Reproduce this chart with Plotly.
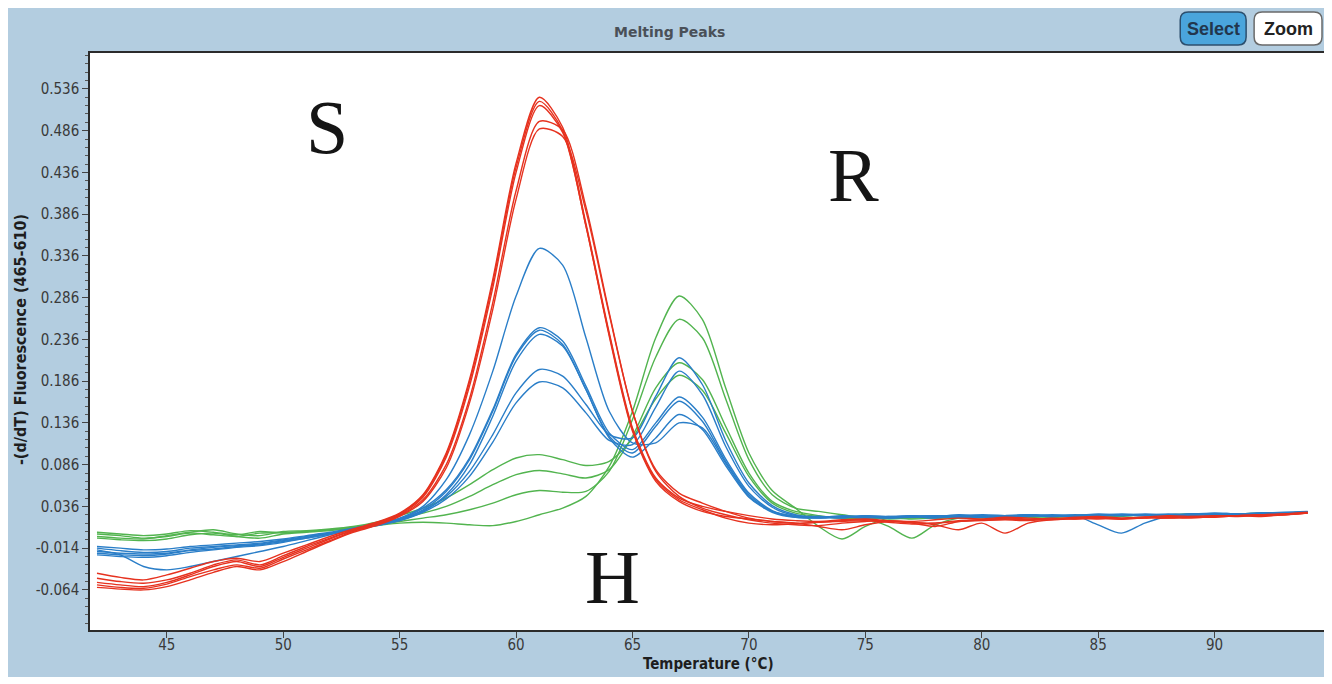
import plotly.graph_objects as go

# ---------------- data ----------------
temperature = list(range(42, 95))  # °C, 1-degree steps

x_ticks = [45, 50, 55, 60, 65, 70, 75, 80, 85, 90]
y_ticks = [-0.064, -0.014, 0.036, 0.086, 0.136, 0.186, 0.236, 0.286, 0.336, 0.386, 0.436, 0.486, 0.536]
y_tick_labels = ["-0.064", "-0.014", "0.036", "0.086", "0.136", "0.186", "0.236",
                 "0.286", "0.336", "0.386", "0.436", "0.486", "0.536"]

# red curves (S genotype)
red_1 = [-0.044, -0.049, -0.052, -0.046, -0.038, -0.030, -0.026, -0.030, -0.020, -0.010, 0.000, 0.009, 0.017, 0.028, 0.050,
         0.100, 0.188, 0.308, 0.447, 0.526, 0.490, 0.375, 0.244, 0.130, 0.070, 0.046, 0.036, 0.030, 0.025, 0.021,
         0.019, 0.018, 0.020, 0.021, 0.019, 0.018, 0.020, 0.022, 0.021, 0.023, 0.022, 0.021, 0.023, 0.024, 0.022, 0.023,
         0.025, 0.024, 0.023, 0.025, 0.026, 0.027, 0.029]
red_2 = [-0.050, -0.054, -0.056, -0.052, -0.044, -0.034, -0.028, -0.034, -0.023, -0.012, -0.002, 0.008, 0.016, 0.027, 0.049,
         0.098, 0.185, 0.304, 0.442, 0.521, 0.486, 0.372, 0.240, 0.126, 0.066, 0.042, 0.030, 0.024, 0.021, 0.018,
         0.016, 0.017, 0.019, 0.020, 0.018, 0.016, 0.012, 0.018, 0.020, 0.022, 0.021, 0.020, 0.022, 0.023, 0.021, 0.022,
         0.024, 0.023, 0.024, 0.025, 0.024, 0.026, 0.028]
red_3 = [-0.055, -0.058, -0.060, -0.055, -0.046, -0.036, -0.030, -0.036, -0.025, -0.014, -0.003, 0.007, 0.015, 0.026, 0.047,
         0.095, 0.180, 0.298, 0.436, 0.516, 0.484, 0.372, 0.242, 0.128, 0.068, 0.044, 0.032, 0.022, 0.016, 0.014,
         0.015, 0.017, 0.018, 0.019, 0.017, 0.015, 0.016, 0.019, 0.020, 0.021, 0.020, 0.022, 0.021, 0.022, 0.021, 0.023,
         0.022, 0.024, 0.025, 0.024, 0.026, 0.027, 0.028]
red_4 = [-0.058, -0.061, -0.062, -0.057, -0.048, -0.040, -0.034, -0.038, -0.027, -0.016, -0.005, 0.006, 0.014, 0.025, 0.044,
         0.086, 0.165, 0.280, 0.414, 0.497, 0.487, 0.395, 0.268, 0.150, 0.078, 0.048, 0.034, 0.026, 0.020, 0.016,
         0.014, 0.013, 0.016, 0.018, 0.019, 0.017, 0.014, 0.008, 0.016, 0.004, 0.016, 0.020, 0.021, 0.022, 0.021, 0.022,
         0.023, 0.022, 0.024, 0.025, 0.025, 0.026, 0.028]
red_5 = [-0.061, -0.063, -0.064, -0.060, -0.052, -0.043, -0.036, -0.040, -0.030, -0.018, -0.006, 0.005, 0.013, 0.024, 0.042,
         0.082, 0.160, 0.272, 0.404, 0.488, 0.479, 0.390, 0.266, 0.150, 0.080, 0.052, 0.040, 0.030, 0.022, 0.018,
         0.016, 0.012, 0.008, 0.014, 0.018, 0.017, 0.016, 0.018, 0.019, 0.020, 0.019, 0.021, 0.022, 0.021, 0.022, 0.023,
         0.022, 0.023, 0.024, 0.025, 0.026, 0.026, 0.028]

# blue curves (H genotype)
blue_1 = [-0.016, -0.022, -0.036, -0.040, -0.036, -0.030, -0.024, -0.018, -0.012, -0.005, 0.002, 0.009, 0.015, 0.022, 0.036,
          0.068, 0.122, 0.198, 0.288, 0.345, 0.325, 0.238, 0.150, 0.112, 0.112, 0.136, 0.130, 0.088, 0.048, 0.030,
          0.024, 0.022, 0.023, 0.024, 0.022, 0.023, 0.025, 0.024, 0.023, 0.025, 0.026, 0.024, 0.025, 0.026, 0.025, 0.026,
          0.025, 0.027, 0.026, 0.027, 0.028, 0.028, 0.029]
blue_2 = [-0.014, -0.017, -0.019, -0.018, -0.014, -0.012, -0.010, -0.008, -0.004, 0.000, 0.004, 0.009, 0.014, 0.021, 0.034,
          0.056, 0.094, 0.152, 0.218, 0.250, 0.234, 0.180, 0.124, 0.104, 0.136, 0.167, 0.143, 0.093, 0.052, 0.031,
          0.024, 0.023, 0.024, 0.022, 0.024, 0.025, 0.023, 0.024, 0.025, 0.024, 0.026, 0.025, 0.024, 0.026, 0.025, 0.027,
          0.026, 0.025, 0.027, 0.026, 0.028, 0.028, 0.029]
blue_3 = [-0.018, -0.020, -0.021, -0.020, -0.016, -0.013, -0.011, -0.009, -0.005, -0.001, 0.004, 0.009, 0.014, 0.020, 0.032,
          0.054, 0.092, 0.150, 0.216, 0.247, 0.230, 0.176, 0.120, 0.100, 0.132, 0.162, 0.138, 0.090, 0.050, 0.030,
          0.023, 0.022, 0.024, 0.023, 0.022, 0.024, 0.025, 0.023, 0.024, 0.022, 0.025, 0.024, 0.025, 0.024, 0.026, 0.025,
          0.026, 0.027, 0.025, 0.027, 0.028, 0.027, 0.029]
blue_4 = [-0.020, -0.022, -0.023, -0.021, -0.017, -0.015, -0.012, -0.010, -0.006, -0.002, 0.003, 0.008, 0.013, 0.019, 0.030,
          0.050, 0.086, 0.144, 0.210, 0.242, 0.228, 0.176, 0.118, 0.095, 0.118, 0.146, 0.128, 0.085, 0.047, 0.029,
          0.023, 0.024, 0.022, 0.025, 0.023, 0.024, 0.022, 0.025, 0.024, 0.023, 0.025, 0.024, 0.025, 0.014, 0.004, 0.016,
          0.024, 0.025, 0.027, 0.026, 0.027, 0.028, 0.029]
blue_5 = [-0.012, -0.014, -0.016, -0.015, -0.012, -0.010, -0.008, -0.006, -0.003, 0.001, 0.005, 0.010, 0.015, 0.021, 0.031,
          0.048, 0.078, 0.122, 0.172, 0.200, 0.192, 0.158, 0.122, 0.118, 0.168, 0.214, 0.182, 0.115, 0.064, 0.037,
          0.026, 0.023, 0.025, 0.024, 0.023, 0.025, 0.024, 0.026, 0.025, 0.024, 0.026, 0.025, 0.026, 0.025, 0.027, 0.026,
          0.025, 0.027, 0.028, 0.027, 0.028, 0.029, 0.030]
blue_6 = [-0.022, -0.024, -0.025, -0.023, -0.019, -0.016, -0.013, -0.011, -0.007, -0.002, 0.003, 0.008, 0.013, 0.019, 0.029,
          0.045, 0.072, 0.113, 0.160, 0.185, 0.178, 0.148, 0.115, 0.110, 0.155, 0.198, 0.170, 0.108, 0.060, 0.035,
          0.025, 0.024, 0.023, 0.025, 0.024, 0.023, 0.025, 0.024, 0.026, 0.025, 0.024, 0.026, 0.025, 0.027, 0.026, 0.025,
          0.027, 0.026, 0.028, 0.027, 0.028, 0.028, 0.029]

# green curves (R genotype)
green_1 = [0.003, 0.001, -0.002, 0.000, 0.004, 0.002, 0.000, 0.004, 0.005, 0.006, 0.008, 0.010, 0.013, 0.016, 0.017,
           0.016, 0.014, 0.013, 0.018, 0.026, 0.034, 0.048, 0.084, 0.150, 0.238, 0.288, 0.260, 0.178, 0.100, 0.055,
           0.034, 0.012, -0.003, 0.012, 0.022, 0.021, 0.022, 0.023, 0.022, 0.024, 0.023, 0.024, 0.025, 0.024, 0.025, 0.026,
           0.025, 0.026, 0.027, 0.026, 0.027, 0.028, 0.029]
green_2 = [-0.002, -0.004, -0.005, -0.003, 0.002, 0.004, 0.000, -0.002, 0.003, 0.005, 0.007, 0.010, 0.014, 0.018, 0.022,
           0.026, 0.032, 0.040, 0.050, 0.055, 0.053, 0.054, 0.078, 0.140, 0.215, 0.260, 0.238, 0.165, 0.092, 0.050,
           0.034, 0.030, 0.026, 0.022, 0.012, -0.002, 0.014, 0.022, 0.023, 0.022, 0.024, 0.023, 0.024, 0.025, 0.024, 0.026,
           0.025, 0.026, 0.027, 0.026, 0.027, 0.028, 0.029]
green_3 = [0.005, 0.003, 0.001, 0.003, 0.007, 0.005, 0.002, 0.006, 0.004, 0.006, 0.008, 0.011, 0.015, 0.021, 0.028,
           0.036, 0.048, 0.062, 0.074, 0.079, 0.075, 0.070, 0.080, 0.120, 0.178, 0.208, 0.188, 0.132, 0.076, 0.042,
           0.030, 0.025, 0.022, 0.023, 0.021, 0.022, 0.023, 0.022, 0.024, 0.023, 0.024, 0.025, 0.024, 0.025, 0.026, 0.025,
           0.026, 0.027, 0.026, 0.027, 0.028, 0.028, 0.029]
green_4 = [0.000, -0.002, -0.003, 0.001, 0.005, 0.008, 0.003, 0.001, 0.006, 0.007, 0.009, 0.012, 0.017, 0.025, 0.034,
           0.046, 0.062, 0.080, 0.094, 0.098, 0.092, 0.085, 0.090, 0.118, 0.165, 0.193, 0.175, 0.124, 0.072, 0.040,
           0.028, 0.024, 0.022, 0.021, 0.022, 0.023, 0.022, 0.023, 0.024, 0.023, 0.025, 0.024, 0.025, 0.026, 0.025, 0.026,
           0.025, 0.027, 0.026, 0.027, 0.028, 0.028, 0.029]

groups = [
    ("#52b44f", [green_1, green_2, green_3, green_4]),
    ("#2a7ec8", [blue_1, blue_2, blue_3, blue_4, blue_5, blue_6]),
    ("#e6321f", [red_1, red_2, red_3, red_4, red_5]),
]

# ---------------- layout helpers (page pixel -> paper) ----------------
OFF = 8                       # page body margin
FIG_W, FIG_H = 1322, 669      # figure spans page pixels 8..1330, 8..677
L, R, T, B = 90, 1326, 53, 630  # plot area in page pixels


def fx(px):
    return (px - L) / (R - L)


def fy(py):
    return (B - py) / (B - T)


def rounded_path(x0, y0, x1, y1, r):
    pts = [
        ("M", [(x0 + r, y0)]), ("L", [(x1 - r, y0)]), ("Q", [(x1, y0), (x1, y0 + r)]),
        ("L", [(x1, y1 - r)]), ("Q", [(x1, y1), (x1 - r, y1)]), ("L", [(x0 + r, y1)]),
        ("Q", [(x0, y1), (x0, y1 - r)]), ("L", [(x0, y0 + r)]), ("Q", [(x0, y0), (x0 + r, y0)]),
    ]
    s = ""
    for cmd, ps in pts:
        s += cmd + " " + " ".join(f"{fx(a):.5f},{fy(b):.5f}" for a, b in ps) + " "
    return s + "Z"


fig = go.Figure()
for color, curves in groups:
    for c in curves:
        fig.add_trace(go.Scatter(
            x=temperature, y=c, mode="lines",
            line=dict(color=color, width=1.4, shape="spline", smoothing=0.8),
            hoverinfo="skip", showlegend=False,
        ))

tick_font = dict(family="DejaVu Sans Condensed, Liberation Sans Narrow, DejaVu Sans, sans-serif",
                 size=15, color="#3a3a3a")
ytitle_font = dict(family="DejaVu Sans Condensed, Liberation Sans Narrow, DejaVu Sans, sans-serif",
                   size=16, color="#1e1e1e")
xtitle_font = dict(family="DejaVu Sans Condensed, Liberation Sans Narrow, DejaVu Sans, sans-serif",
                   size=15, color="#1e1e1e")
serif = "Liberation Serif, Times New Roman, serif"

fig.update_layout(
    width=FIG_W, height=FIG_H, autosize=False,
    margin=dict(l=L - OFF, r=OFF + FIG_W - R, t=T - OFF, b=OFF + FIG_H - B, pad=0),
    paper_bgcolor="#b3cde0", plot_bgcolor="white",
    xaxis=dict(range=[41.7, 94.7], tickmode="array", tickvals=x_ticks,
               ticktext=[str(v) for v in x_ticks],
               ticks="outside", ticklen=6, tickcolor="#444", tickwidth=1, ticklabelstandoff=-6,
               showgrid=False, zeroline=False, showline=True, mirror=True,
               linecolor="#2b2b2b", linewidth=1.5, tickfont=tick_font),
    yaxis=dict(range=[-0.112, 0.579], tickmode="array", tickvals=y_ticks, ticktext=y_tick_labels,
               ticks="outside", ticklen=6, tickcolor="#444", tickwidth=1,
               minor=dict(tickmode="linear", tick0=0.036, dtick=0.01, ticks="outside",
                          ticklen=3, tickcolor="#555", showgrid=False),
               showgrid=False, zeroline=False, showline=True, mirror=True,
               linecolor="#2b2b2b", linewidth=1.5, tickfont=tick_font),
    shapes=[
        dict(type="path", xref="paper", yref="paper", path=rounded_path(1182, 12, 1248, 45, 8),
             fillcolor="#4aa5dc", line=dict(color="#2c4f6e", width=1.5)),
        dict(type="path", xref="paper", yref="paper", path=rounded_path(1256, 12, 1324, 45, 8),
             fillcolor="white", line=dict(color="#6a6a6a", width=1.5)),
    ],
    annotations=[
        dict(text="<b>Melting Peaks</b>", xref="paper", yref="paper", x=fx(670), y=fy(32),
             showarrow=False, xanchor="center", yanchor="middle",
             font=dict(family="DejaVu Sans, sans-serif", size=14, color="#4a5058")),
        dict(text="<b>Select</b>", xref="paper", yref="paper", x=fx(1215), y=fy(29),
             showarrow=False, xanchor="center", yanchor="middle",
             font=dict(family="Liberation Sans, Arial, sans-serif", size=18, color="#22364d")),
        dict(text="<b>Zoom</b>", xref="paper", yref="paper", x=fx(1290), y=fy(29),
             showarrow=False, xanchor="center", yanchor="middle",
             font=dict(family="Liberation Sans, Arial, sans-serif", size=18, color="#222222")),
        dict(text="<b>-(d/dT) Fluorescence (465-610)</b>", xref="paper", yref="paper",
             x=fx(20), y=fy(340), textangle=-90, showarrow=False,
             xanchor="center", yanchor="middle", font=ytitle_font),
        dict(text="<b>Temperature (°C)</b>", xref="paper", yref="paper",
             x=fx(710), y=fy(664), showarrow=False,
             xanchor="center", yanchor="middle", font=xtitle_font),
        dict(text="S", xref="paper", yref="paper", x=fx(327), y=fy(127), showarrow=False,
             xanchor="center", yanchor="middle", font=dict(family=serif, size=76, color="#151515")),
        dict(text="R", xref="paper", yref="paper", x=fx(855), y=fy(175), showarrow=False,
             xanchor="center", yanchor="middle", font=dict(family=serif, size=76, color="#151515")),
        dict(text="H", xref="paper", yref="paper", x=fx(613), y=fy(577), showarrow=False,
             xanchor="center", yanchor="middle", font=dict(family=serif, size=76, color="#151515")),
    ],
)

fig.write_html("out.html")
